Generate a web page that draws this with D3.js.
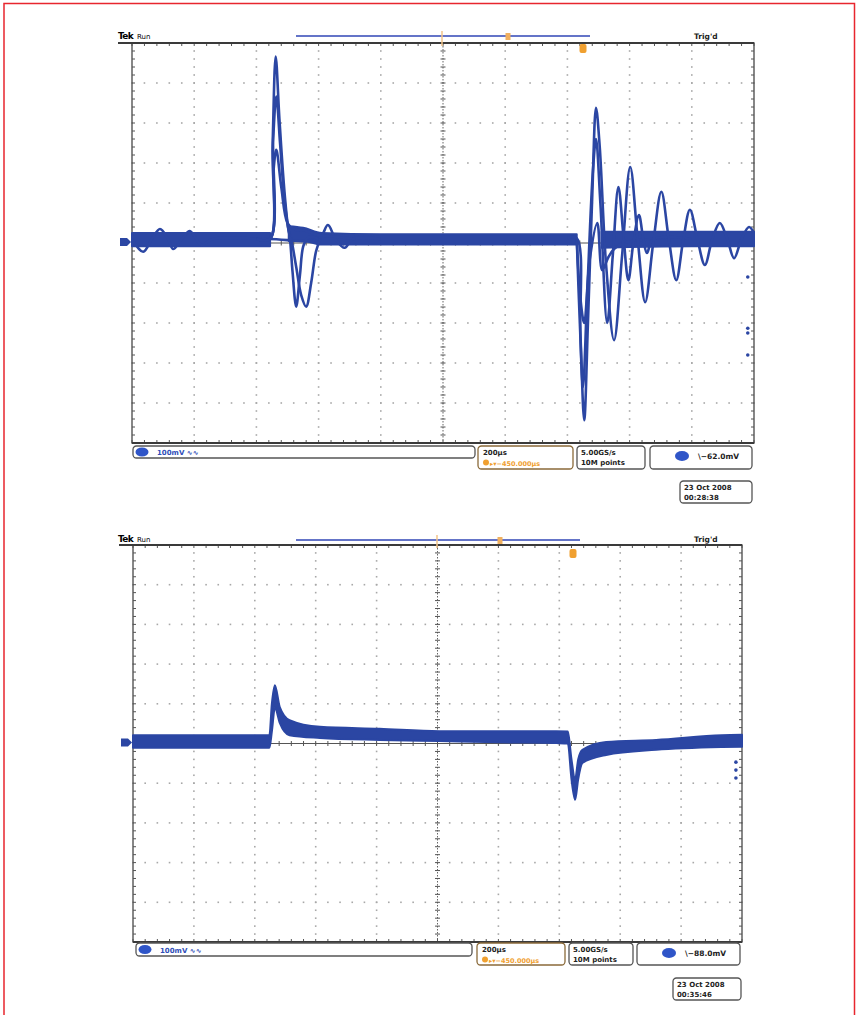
<!DOCTYPE html>
<html>
<head>
<meta charset="utf-8">
<script src="https://cdn.jsdelivr.net/npm/d3@7"></script>
<style>
  body { margin: 0; background: #fff; }
  svg { display: block; }
</style>
</head>
<body>
<div id="scope"></div>
<script>

// two scope captures, values in divisions (t: 0..10 horizontal, v: -5..5 vertical)

const divsX = 10;
const divsY = 10;

// ---- top capture ----
// persistence band round the baseline: [t, hi, lo], null = gap
const topBand = [
  [0, 0.25, -0.08], [2.22, 0.25, -0.08], [2.23, null, null],
  [2.52, 0.42, 0.05], [2.75, 0.38, 0.05], [3.05, 0.25, -0.04],
  [4.0, 0.22, -0.04], [5.5, 0.22, -0.04], [7.15, 0.22, -0.04], [7.16, null, null],
  [7.55, 0.28, -0.12], [8.0, 0.28, -0.1], [9.0, 0.28, -0.08], [10, 0.28, -0.08]
];
const topRipple = [
  [0, 0.1], [0.18, -0.22], [0.32, 0.1], [0.45, 0.35], [0.58, 0.1], [0.66, -0.15],
  [0.8, 0.1], [0.93, 0.3], [1.03, 0.1], [1.12, -0.05], [1.3, 0.1], [2.2, 0.1],
  [3.0, 0.1], [3.15, 0.45], [3.27, 0.1], [3.42, -0.12], [3.55, 0.1], [4.0, 0.1]
];
const spikeA = [
  [2.0, 0.1], [2.22, 0.1], [2.26, 2.4], [2.31, 4.66], [2.37, 3.1], [2.44, 1.5],
  [2.50, 0.5], [2.54, 0.1], [2.58, -0.7], [2.64, -1.59], [2.70, -0.8], [2.76, -0.05],
  [2.85, 0.15], [3.0, 0.1]
];
const spikeB = [
  [2.0, 0.1], [2.22, 0.1], [2.27, 2.6], [2.32, 3.66], [2.38, 2.5], [2.45, 1.1],
  [2.52, 0.3], [2.56, 0.1], [2.64, -0.6], [2.72, -1.3], [2.80, -1.59], [2.88, -1.0],
  [2.96, -0.2], [3.03, 0.1]
];
const spikeC = [
  [2.0, 0.1], [2.22, 0.1], [2.28, 1.9], [2.32, 2.33], [2.4, 1.4], [2.5, 0.5],
  [2.6, 0.35], [2.8, 0.3], [3.0, 0.2], [3.3, 0.15], [3.6, 0.1]
];
const ringA = [
  [7.0, 0.12], [7.15, 0.12], [7.21, -2.3], [7.27, -4.43], [7.33, -2.0], [7.40, 1.2],
  [7.46, 3.38], [7.52, 2.4], [7.62, -0.5], [7.75, -2.43], [7.88, -0.3], [8.01, 1.9],
  [8.13, 0.1], [8.25, -1.48], [8.38, 0], [8.51, 1.28], [8.63, 0.1], [8.75, -0.93],
  [8.86, 0.05], [8.97, 0.83], [9.09, 0.1], [9.21, -0.55], [9.33, 0.1], [9.45, 0.5],
  [9.57, 0.1], [9.68, -0.38], [9.8, 0.1], [9.92, 0.4], [10, 0.25]
];
const ringB = [
  [7.15, 0.12], [7.20, -2.0], [7.25, -3.6], [7.32, -1.2], [7.41, 1.8], [7.46, 2.6],
  [7.53, 1.0], [7.64, -2.0], [7.73, -0.3], [7.82, 1.4], [7.9, 0.2], [7.98, -0.93],
  [8.06, 0.0], [8.15, 0.7], [8.22, 0.1], [8.28, -0.25], [8.38, 0.1], [9.0, 0.1]
];
const ringC = [
  [7.15, 0.12], [7.21, -1.4], [7.27, -2.0], [7.36, -0.4], [7.48, 0.5], [7.56, -0.68],
  [7.66, -0.35], [7.75, -0.15], [7.9, 0.0], [8.2, 0.08], [8.6, 0.12]
];
const topDots = [[9.9, -0.85], [9.9, -2.13], [9.9, -2.25], [9.9, -2.8]];

// ---- bottom capture ----
const bottomBand = [
  [0, 0.21, -0.11], [2.24, 0.21, -0.11], [2.28, 1.0, 0.3], [2.33, 1.47, 0.9],
  [2.41, 0.92, 0.52], [2.57, 0.59, 0.21], [3.07, 0.42, 0.14], [4.05, 0.37, 0.09],
  [5.03, 0.31, 0.06], [6.0, 0.31, 0.03], [6.95, 0.31, 0.01], [7.14, 0.3, 0.0],
  [7.2, -0.4, -0.9], [7.26, -0.9, -1.42], [7.31, -0.4, -0.9], [7.38, -0.16, -0.49],
  [7.77, 0.04, -0.29], [8.59, 0.09, -0.16], [9.67, 0.21, -0.09], [10, 0.22, -0.08]
];
const bottomDots = [[9.9, -0.47], [9.9, -0.67], [9.9, -0.87]];

// readouts
const topReadout = { scale: "100mV", time: "200µs", delay: "−450.000µs", rate: "5.00GS/s",
  rec: "10M points", trig: "−62.0mV", date: "23 Oct  2008", clock: "00:28:38" };
const bottomReadout = { scale: "100mV", time: "200µs", delay: "−450.000µs", rate: "5.00GS/s",
  rec: "10M points", trig: "−88.0mV", date: "23 Oct  2008", clock: "00:35:46" };

const W = 858, H = 1015;
const blue = "#2b46a3";
const orange = "#f0a030";
const font = "'DejaVu Sans', sans-serif";

const svg = d3.select("#scope")
  .append("svg")
  .attr("width", W)
  .attr("height", H);

svg.append("rect").attr("width", W).attr("height", H).attr("fill", "#fff");

// red frame round the page
svg.append("path")
  .attr("d", `M4,${H} V3.5 H854.5 V${H}`)
  .attr("fill", "none")
  .attr("stroke", "#e8262e")
  .attr("stroke-width", 1.5);

function drawScreen(s) {
  const x = d3.scaleLinear().domain([0, divsX]).range([s.x0, s.x1]);
  const y = d3.scaleLinear().domain([-divsY / 2, divsY / 2]).range([s.y1, s.y0]);
  const g = svg.append("g");

  const minorX = d3.range(0, divsX + 0.001, 0.2);
  const minorY = d3.range(-divsY / 2, divsY / 2 + 0.001, 0.2);
  const gridX = d3.range(1, divsX).filter(d => d !== 5);
  const gridY = d3.range(-4, 5).filter(d => d !== 0);

  // dotted grid
  const dots = [];
  gridX.forEach(gx => minorY.forEach(my => dots.push([gx, my])));
  gridY.forEach(gy => minorX.forEach(mx => dots.push([mx, gy])));
  g.append("g").selectAll("rect")
    .data(dots)
    .join("rect")
      .attr("x", d => x(d[0]) - 0.8)
      .attr("y", d => y(d[1]) - 0.8)
      .attr("width", 1.6)
      .attr("height", 1.6)
      .attr("fill", "#a8a8a8");

  // centre cross with ticks
  g.append("line")
    .attr("x1", x(5)).attr("x2", x(5)).attr("y1", s.y0).attr("y2", s.y1)
    .attr("stroke", "#666").attr("stroke-width", 1).attr("stroke-dasharray", "1.5,1.5");
  g.append("line")
    .attr("x1", s.x0).attr("x2", s.x1).attr("y1", y(0)).attr("y2", y(0))
    .attr("stroke", "#555").attr("stroke-width", 1);
  g.append("g").selectAll("line")
    .data(minorY)
    .join("line")
      .attr("x1", x(5) - 2.5).attr("x2", x(5) + 2.5)
      .attr("y1", d => y(d)).attr("y2", d => y(d))
      .attr("stroke", "#555");
  g.append("g").selectAll("line")
    .data(minorX)
    .join("line")
      .attr("x1", d => x(d)).attr("x2", d => x(d))
      .attr("y1", y(0) - 2.5).attr("y2", y(0) + 2.5)
      .attr("stroke", "#555");

  // border ticks
  const ticks = g.append("g").attr("stroke", "#555").attr("stroke-width", 1);
  minorX.forEach(t => {
    ticks.append("line").attr("x1", x(t)).attr("x2", x(t)).attr("y1", s.y0).attr("y2", s.y0 + 3);
    ticks.append("line").attr("x1", x(t)).attr("x2", x(t)).attr("y1", s.y1).attr("y2", s.y1 - 3);
  });
  minorY.forEach(v => {
    ticks.append("line").attr("x1", s.x0).attr("x2", s.x0 + 3).attr("y1", y(v)).attr("y2", y(v));
    ticks.append("line").attr("x1", s.x1).attr("x2", s.x1 - 3).attr("y1", y(v)).attr("y2", y(v));
  });

  // frame
  g.append("rect")
    .attr("x", s.x0).attr("y", s.y0)
    .attr("width", s.x1 - s.x0).attr("height", s.y1 - s.y0)
    .attr("fill", "none").attr("stroke", "#555").attr("stroke-width", 1.4);
  g.append("line")
    .attr("x1", s.x0 - 14).attr("x2", s.x1).attr("y1", s.y0).attr("y2", s.y0)
    .attr("stroke", "#3a3a3a").attr("stroke-width", 2.2);
  g.append("line")
    .attr("x1", s.x0).attr("x2", s.x1).attr("y1", s.y1).attr("y2", s.y1)
    .attr("stroke", "#3a3a3a").attr("stroke-width", 2);

  // persistence band
  const area = d3.area()
    .defined(d => d[1] !== null)
    .x(d => x(d[0]))
    .y0(d => y(d[2]))
    .y1(d => y(d[1]))
    .curve(d3.curveMonotoneX);
  g.append("path")
    .datum(s.band)
    .attr("d", area)
    .attr("fill", blue)
    .attr("stroke", blue)
    .attr("stroke-width", 2)
    .attr("stroke-linejoin", "round");

  // individual traces
  const line = d3.line()
    .x(d => x(d[0]))
    .y(d => y(d[1]))
    .curve(d3.curveCatmullRom.alpha(0.5));
  g.append("g").selectAll("path")
    .data(s.traces)
    .join("path")
      .attr("d", line)
      .attr("fill", "none")
      .attr("stroke", blue)
      .attr("stroke-width", 2.6)
      .attr("stroke-linejoin", "round");

  g.append("g").selectAll("circle")
    .data(s.dots)
    .join("circle")
      .attr("cx", d => x(d[0]))
      .attr("cy", d => y(d[1]))
      .attr("r", 1.8)
      .attr("fill", blue);

  // ground marker on the left
  const gy = y(0) - 1;
  g.append("path")
    .attr("d", `M${s.x0 - 12},${gy - 4} h7 l4,4 l-4,4 h-7 z`)
    .attr("fill", blue);

  // top status line
  g.append("text").attr("x", 118).attr("y", s.tekY)
    .attr("font-family", font).attr("font-weight", "bold").attr("font-size", 9)
    .attr("letter-spacing", -0.6).text("Tek");
  g.append("text").attr("x", 137).attr("y", s.tekY)
    .attr("font-family", font).attr("font-size", 7).text("Run");
  g.append("text").attr("x", 694).attr("y", s.tekY)
    .attr("font-family", font).attr("font-size", 7.5).attr("font-weight", "bold")
    .attr("fill", "#222").text("Trig'd");
  g.append("line")
    .attr("x1", s.barX[0]).attr("x2", s.barX[1]).attr("y1", s.barY).attr("y2", s.barY)
    .attr("stroke", "#6474c8").attr("stroke-width", 2.2);
  g.append("line")
    .attr("x1", s.orange[0]).attr("x2", s.orange[0]).attr("y1", s.barY - 5).attr("y2", s.y0 + 3)
    .attr("stroke", "#f3c48a").attr("stroke-width", 1.5);
  g.append("rect")
    .attr("x", s.orange[1] - 2.5).attr("y", s.barY - 3).attr("width", 5).attr("height", 7)
    .attr("fill", "#f0b060");
  g.append("rect")
    .attr("x", s.orange[2] - 3.5).attr("y", s.markY - 4).attr("width", 7).attr("height", 9)
    .attr("rx", 2).attr("fill", orange);

  // bottom readout boxes
  const box = (b, stroke) => g.append("rect")
    .attr("x", b[0]).attr("y", b[1]).attr("width", b[2]).attr("height", b[3])
    .attr("rx", 3.5).attr("fill", "#fff").attr("stroke", stroke).attr("stroke-width", 1.3);
  const label = (tx, ty, str, fill, size) => g.append("text")
    .attr("x", tx).attr("y", ty)
    .attr("font-family", font).attr("font-weight", "bold")
    .attr("font-size", size || 7).attr("fill", fill || "#222").text(str);
  const r = s.readout;

  box(s.box1, "#555");
  g.append("ellipse").attr("cx", s.box1[0] + 9).attr("cy", s.box1[1] + s.box1[3] / 2)
    .attr("rx", 6.5).attr("ry", 4.5).attr("fill", "#2f55c8");
  label(s.box1[0] + 24, s.box1[1] + s.box1[3] / 2 + 3, r.scale + " \u223F\u223F", "#2f4db8");

  box(s.box2, "#8a6a3a");
  label(s.box2[0] + 5, s.box2[1] + 9, r.time);
  g.append("circle").attr("cx", s.box2[0] + 8).attr("cy", s.box2[1] + 16.5)
    .attr("r", 3).attr("fill", orange);
  label(s.box2[0] + 12, s.box2[1] + 19.5, "\u25B8\u25BE" + r.delay, "#f0a030", 6.5);

  box(s.box3, "#555");
  label(s.box3[0] + 4, s.box3[1] + 9, r.rate);
  label(s.box3[0] + 4, s.box3[1] + 19, r.rec);

  box(s.box4, "#555");
  g.append("ellipse").attr("cx", s.box4[0] + 32).attr("cy", s.box4[1] + 10)
    .attr("rx", 7).attr("ry", 5).attr("fill", "#2f55c8");
  label(s.box4[0] + 48, s.box4[1] + 13, "\\" + r.trig, "#222", 7.5);

  box(s.dateBox, "#555");
  label(s.dateBox[0] + 4, s.dateBox[1] + 9, r.date);
  label(s.dateBox[0] + 4, s.dateBox[1] + 19, r.clock);
}

drawScreen({
  x0: 132, x1: 754, y0: 43, y1: 443,
  band: topBand,
  traces: [topRipple, spikeC, spikeB, spikeA, ringC, ringB, ringA],
  dots: topDots,
  readout: topReadout,
  tekY: 39, barY: 36, barX: [296, 590], orange: [442, 508, 583], markY: 48,
  box1: [133, 446, 342, 12], box2: [478, 446, 95, 23], box3: [577, 446, 68, 23],
  box4: [650, 446, 102, 23], dateBox: [680, 481, 72, 22]
});

drawScreen({
  x0: 133, x1: 742, y0: 545, y1: 942,
  band: bottomBand,
  traces: [],
  dots: bottomDots,
  readout: bottomReadout,
  tekY: 542, barY: 540, barX: [296, 580], orange: [437, 500, 573], markY: 553,
  box1: [136, 943, 336, 13], box2: [477, 943, 88, 22], box3: [569, 943, 64, 22],
  box4: [637, 943, 103, 22], dateBox: [673, 978, 68, 22]
});

</script>
</body>
</html>
